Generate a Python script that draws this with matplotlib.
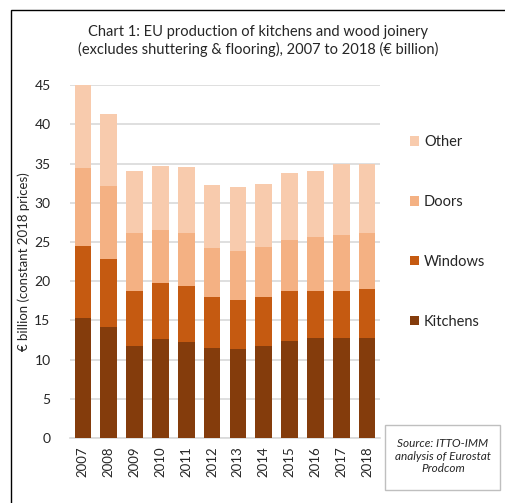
import matplotlib
matplotlib.use("Agg")
import matplotlib.pyplot as plt
from matplotlib.patches import Rectangle, Patch
import numpy as np

years = ["2007", "2008", "2009", "2010", "2011", "2012",
         "2013", "2014", "2015", "2016", "2017", "2018"]
kitchens = [15.3, 14.1, 11.7, 12.6, 12.3, 11.5, 11.3, 11.8, 12.4, 12.8, 12.7, 12.8]
windows = [9.2, 8.7, 7.1, 7.2, 7.1, 6.5, 6.3, 6.2, 6.3, 6.0, 6.1, 6.2]
doors = [10.0, 9.4, 7.4, 6.7, 6.7, 6.3, 6.2, 6.4, 6.6, 6.8, 7.1, 7.1]
other = [10.6, 9.2, 7.9, 8.2, 8.5, 8.0, 8.2, 8.0, 8.5, 8.5, 9.0, 8.9]

series = [("Kitchens", kitchens, "#843C0C"),
          ("Windows", windows, "#C55A11"),
          ("Doors", doors, "#F4B183"),
          ("Other", other, "#F8CBAD")]

plt.rcParams["font.family"] = ["Lato", "DejaVu Sans"]
text_col = "#262626"

W, H = 506, 503
fig = plt.figure(figsize=(W / 100, H / 100), dpi=100)
ax = fig.add_axes([70 / W, 1 - 438 / H, 310 / W, (438 - 85.3) / H])

x = np.arange(len(years))
bottom = np.zeros(len(years))
for name, vals, col in series:
    vals = np.array(vals)
    ax.bar(x, vals, 0.64, bottom=bottom, color=col, label=name,
           edgecolor="none", zorder=3, clip_on=False)
    bottom += vals

ax.set_xlim(-0.5, len(years) - 0.5)
ax.set_ylim(0, 45)
ax.set_yticks(np.arange(0, 46, 5))
ax.grid(axis="y", color="#d9d9d9", linewidth=1.2, zorder=0)
for s in ["top", "right", "left"]:
    ax.spines[s].set_visible(False)
ax.spines["bottom"].set_color("#d9d9d9")
ax.spines["bottom"].set_linewidth(1.2)
ax.set_xticks(x)
ax.set_xticklabels(years, rotation=90, fontsize=9.5, color=text_col)
ax.tick_params(axis="x", length=0, pad=6)
ax.tick_params(axis="y", length=0, pad=14, labelsize=10, labelcolor=text_col)
ax.set_ylabel("€ billion (constant 2018 prices)", fontsize=9.5, color=text_col, labelpad=3)

fig.text(258 / W, 1 - 41 / H,
         "Chart 1: EU production of kitchens and wood joinery\n"
         "(excludes shuttering & flooring), 2007 to 2018 (€ billion)",
         ha="center", va="center", fontsize=10.5, color=text_col, linespacing=1.25)

handles = [Patch(facecolor=c, edgecolor="none") for _, _, c in series][::-1]
labels = [n for n, _, _ in series][::-1]
fig.legend(handles, labels, loc="upper left", bbox_to_anchor=(397 / W, 1 - 122 / H),
           frameon=False, fontsize=10.5, labelspacing=3.15, handlelength=0.6,
           handleheight=0.6, handletextpad=0.35, labelcolor=text_col)

# outer frame
fig.add_artist(Rectangle((11 / W, -0.1), 1.2, 1 - 10 / H + 0.1, transform=fig.transFigure,
                         fill=False, edgecolor="black", linewidth=1.0))
# source box
fig.add_artist(Rectangle((385 / W, 1 - 490 / H), 115 / W, 65 / H, transform=fig.transFigure,
                         fill=False, edgecolor="#bfbfbf", linewidth=1.0))
fig.text(443 / W, 1 - 456 / H, "Source: ITTO-IMM\nanalysis of Eurostat\nProdcom",
         ha="center", va="center", fontsize=8.5, style="italic", color=text_col, linespacing=1.2)

fig.savefig("out.png", dpi=100)
